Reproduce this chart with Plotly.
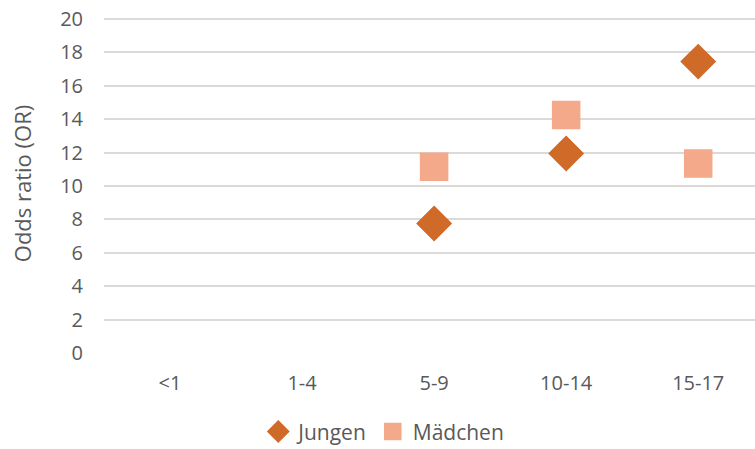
import plotly.graph_objects as go

categories = ["<1", "1-4", "5-9", "10-14", "15-17"]
jungen = [None, None, 7.75, 11.95, 17.45]
maedchen = [None, None, 11.15, 14.25, 11.35]
y_ticks = list(range(0, 21, 2))

text_color = "#595959"
font_family = "Open Sans, Liberation Sans, sans-serif"

fig = go.Figure()
fig.add_trace(go.Scatter(
    x=categories, y=jungen, mode="markers", name="Jungen",
    marker=dict(symbol="diamond", size=26, color="#CF6A28",
                line=dict(width=1.5, color="#CF6A28")),
))
fig.add_trace(go.Scatter(
    x=categories, y=maedchen, mode="markers", name="Mädchen",
    marker=dict(symbol="square", size=27, color="#F3A98A",
                line=dict(width=1.5, color="#F3A98A")),
))

fig.update_layout(
    width=755, height=449,
    margin=dict(l=104, r=0, t=14, b=96, autoexpand=False),
    paper_bgcolor="white", plot_bgcolor="white",
    font=dict(family=font_family, color=text_color, size=20),
    showlegend=True,
    legend=dict(orientation="h", x=0.237, xanchor="left", y=-0.172, yanchor="top",
                font=dict(size=21, color=text_color),
                itemwidth=30, tracegroupgap=0),
    xaxis=dict(type="category", categoryorder="array", categoryarray=categories,
               range=[-0.5, 4.43], showgrid=False, zeroline=False, showline=False,
               automargin=False,
               ticks="", tickfont=dict(size=20, color=text_color),
               ticklabelstandoff=16),
    yaxis=dict(range=[0, 20.3], tickvals=y_ticks, showgrid=True, automargin=False,
               gridcolor="#DDD9D6", gridwidth=1.5, zeroline=False, showline=False,
               ticks="", tickfont=dict(size=20, color=text_color),
               ticklabelstandoff=20,
               title=dict(text="Odds ratio (OR)", font=dict(size=22, color=text_color),
                          standoff=22)),
)

fig.write_html("out.html", config={"displayModeBar": False},
               post_script="document.body.style.margin='0';document.body.style.overflow='hidden';")
